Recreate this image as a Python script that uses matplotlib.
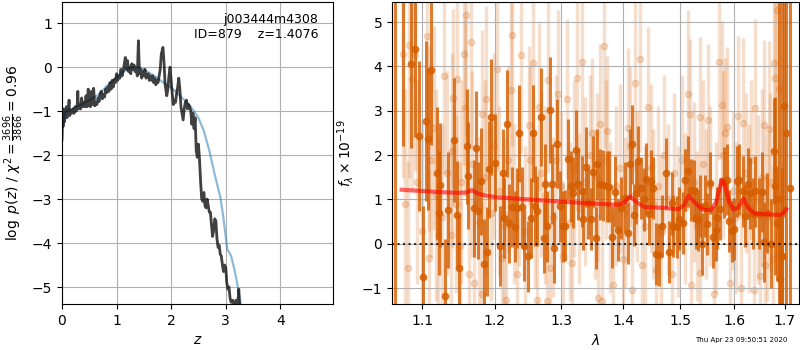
import matplotlib
matplotlib.use('Agg')
import matplotlib.pyplot as plt
from matplotlib.ticker import NullLocator

# left panel: log p(z) (black) and prior-ish smooth curve (blue)
z_pz = [0.00, 0.01, 0.02, 0.03, 0.04, 0.06, 0.08, 0.09, 0.11, 0.13,
        0.14, 0.16, 0.18, 0.20, 0.22, 0.24, 0.26, 0.28, 0.29, 0.30,
        0.32, 0.34, 0.36, 0.38, 0.40, 0.42, 0.44, 0.46, 0.48, 0.50,
        0.52, 0.54, 0.56, 0.58, 0.60, 0.62, 0.64, 0.66, 0.68, 0.70,
        0.72, 0.74, 0.76, 0.78, 0.80, 0.82, 0.84, 0.86, 0.88, 0.90,
        0.92, 0.94, 0.96, 0.98, 1.00, 1.02, 1.04, 1.06, 1.08, 1.10,
        1.12, 1.14, 1.16, 1.18, 1.20, 1.22, 1.24, 1.26, 1.28, 1.30,
        1.32, 1.34, 1.36, 1.38, 1.40, 1.42, 1.44, 1.46, 1.48, 1.50,
        1.52, 1.54, 1.56, 1.58, 1.60, 1.62, 1.64, 1.66, 1.68, 1.70,
        1.72, 1.74, 1.76, 1.78, 1.80, 1.82, 1.85, 1.87, 1.89, 1.92,
        1.94, 1.96, 1.98, 2.00, 2.02, 2.04, 2.06, 2.08, 2.10, 2.12,
        2.14, 2.16, 2.18, 2.20, 2.22, 2.24, 2.26, 2.28, 2.30, 2.32,
        2.34, 2.36, 2.38, 2.40, 2.42, 2.44, 2.46, 2.48, 2.50, 2.52,
        2.54, 2.56, 2.58, 2.60, 2.62, 2.64, 2.66, 2.68, 2.70, 2.72,
        2.74, 2.76, 2.78, 2.80, 2.82, 2.84, 2.86, 2.88, 2.90, 2.92,
        2.94, 2.96, 2.98, 3.00, 3.02, 3.04, 3.06, 3.08, 3.10, 3.13,
        3.16, 3.19, 3.22, 3.24, 3.26]
logp = [-1.65, -1.2, -1.35, -0.95, -1.25, -1.1, -0.9, -1.15, -1.05, -0.75,
        -1.1, -1.0, -1.05, -0.95, -1.05, -0.9, -1.0, -0.85, -0.55, -0.95,
        -0.85, -0.95, -0.7, -0.9, -0.8, -0.9, -0.65, -0.9, -0.5, -0.85,
        -0.9, -0.55, -0.85, -0.48, -0.88, -0.8, -0.85, -0.7, -0.78, -0.6,
        -0.55, -0.72, -0.62, -0.68, -0.5, -0.58, -0.45, -0.55, -0.35, -0.5,
        -0.3, -0.45, -0.28, -0.35, -0.15, -0.3, -0.2, -0.25, -0.05, -0.2,
        -0.1, 0.05, 0.22, -0.05, 0.15, -0.1, 0.0, -0.15, 0.08, -0.05,
        0.05, -0.1, -0.05, -0.2, 0.6, -0.15, -0.05, -0.25, -0.1, -0.2,
        -0.05, -0.25, -0.2, -0.15, -0.3, -0.2, -0.3, -0.2, -0.35, -0.25,
        -0.4, -0.3, -0.35, -0.2, -0.05, 0.3, 0.45, 0.1, -0.4, -0.65,
        -0.5, -0.2, 0.0, -0.3, -0.6, -0.85, -0.75, -0.8, -0.6, -0.45,
        -0.25, -0.5, -0.9, -1.05, -1.2, -0.95, -0.8, -0.75, -0.95, -0.85,
        -0.9, -1.0, -1.3, -1.05, -1.4, -1.15, -1.9, -2.05, -1.75, -2.1,
        -2.6, -3.0, -3.05, -2.85, -3.15, -3.2, -3.0, -3.15, -3.3, -3.3,
        -3.6, -3.85, -3.7, -3.45, -3.5, -3.9, -4.1, -4.05, -4.25, -4.3,
        -4.5, -4.65, -4.5, -4.55, -4.9, -5.05, -5.0, -5.25, -5.35, -5.3,
        -5.45, -5.3, -5.4, -5.05, -5.6]

z_prior = [0.0, 0.05, 0.1, 0.2, 0.3, 0.4, 0.5, 0.6, 0.7, 0.8, 0.9, 1.0,
           1.1, 1.2, 1.3, 1.4, 1.5, 1.6, 1.7, 1.8, 1.9, 2.0, 2.1, 2.2,
           2.3, 2.4, 2.5, 2.6, 2.7, 2.8, 2.9, 2.95, 3.0, 3.03, 3.07, 3.1,
           3.15, 3.2, 3.25, 3.3]
logp_prior = [-1.4, -1.05, -0.98, -0.95, -0.88, -0.82, -0.75, -0.68, -0.6,
              -0.45, -0.35, -0.22, -0.12, -0.05, 0.0, 0.0, -0.05, -0.13,
              -0.2, -0.3, -0.38, -0.47, -0.57, -0.7, -0.82, -0.97, -1.15,
              -1.45, -1.9, -2.45, -2.95, -3.35, -3.85, -4.15, -4.22, -4.3,
              -4.55, -4.85, -5.2, -5.55]

# right panel: spectrum, strong points
lam_dark = [1.064, 1.075, 1.085, 1.090, 1.096, 1.101, 1.105, 1.108, 1.112, 1.119,
            1.122, 1.124, 1.131, 1.135, 1.143, 1.147, 1.150, 1.161, 1.162, 1.170,
            1.174, 1.176, 1.181, 1.184, 1.189, 1.192, 1.195, 1.201, 1.207, 1.212,
            1.214, 1.218, 1.221, 1.225, 1.230, 1.232, 1.235, 1.240, 1.243, 1.249,
            1.253, 1.256, 1.259, 1.263, 1.268, 1.273, 1.275, 1.278, 1.282, 1.285,
            1.289, 1.293, 1.298, 1.303, 1.305, 1.311, 1.315, 1.319, 1.323, 1.327,
            1.332, 1.335, 1.339, 1.343, 1.347, 1.350, 1.355, 1.357, 1.362, 1.366,
            1.373, 1.377, 1.382, 1.386, 1.392, 1.397, 1.403, 1.408, 1.412, 1.415,
            1.419, 1.422, 1.426, 1.431, 1.435, 1.440, 1.445, 1.448, 1.452, 1.457,
            1.461, 1.467, 1.474, 1.480, 1.484, 1.487, 1.493, 1.498, 1.504, 1.508,
            1.514, 1.519, 1.524, 1.528, 1.532, 1.535, 1.539, 1.544, 1.548, 1.555,
            1.560, 1.565, 1.567, 1.573, 1.580, 1.586, 1.591, 1.595, 1.600, 1.606,
            1.610, 1.617, 1.621, 1.626, 1.630, 1.637, 1.641, 1.648, 1.655, 1.658,
            1.665, 1.673, 1.678, 1.681, 1.685, 1.688, 1.690, 1.694, 1.695, 1.699,
            1.703, 1.711]
flux_dark = [6.0, 6.0, 4.05, 4.40, 2.43, -0.74, 2.77, 2.37, 3.92, 1.59,
             0.70, 1.32, -1.18, 0.76, 2.34, 0.66, -0.55, 2.20, 1.54, 0.80,
             2.15, 0.75, 1.41, -0.45, -0.18, 1.68, 2.86, 1.83, -0.05, 1.59,
             0.59, 2.71, 0.46, 0.83, 0.38, 0.81, 2.49, 0.83, -0.04, -0.28,
             0.59, 2.49, 0.85, 0.74, 2.86, 0.14, 1.34, 0.40, 3.02, 1.34,
             -0.09, 2.26, 0.85, 0.40, 0.41, 1.92, 1.30, 1.15, 2.11, 1.34,
             1.19, 0.56, 1.74, 0.92, 0.56, 1.62, 0.14, 1.79, 1.34, 1.32,
             1.30, 1.29, 0.16, 1.17, 0.32, 0.81, 1.04, 0.25, 1.80, 2.24,
             0.66, 1.15, 1.86, 1.25, 1.00, 1.47, 0.68, 1.41, 1.26, -0.23,
             -0.25, 0.40, 1.59, -0.18, 0.91, 0.40, 0.38, 0.57, 0.46, 1.43,
             1.64, 1.21, 1.19, 0.59, 0.53, 0.85, 0.0, 0.85, 0.45, 1.38,
             0.16, 0.32, 0.59, 0.79, 1.39, 1.45, 0.51, 0.29, 0.34, 1.41,
             1.45, 1.19, 0.62, 1.35, 1.14, 0.68, 1.19, 0.68, 1.17, 0.04,
             0.70, 0.0, 2.09, 1.3, 0.46, 1.0, -0.80, -0.28, -0.28, 3.11,
             2.5, 1.26]
err_dark = [9.0, 3.8, 1.9, 2.0, 1.7, 1.6, 1.8, 1.6, 1.7, 1.5,
            1.4, 1.4, 1.3, 1.3, 1.4, 1.2, 1.2, 1.3, 1.2, 1.1,
            1.3, 1.1, 1.2, 1.0, 1.0, 1.1, 1.3, 1.1, 0.9, 1.0,
            0.9, 1.2, 0.9, 0.9, 0.8, 0.9, 1.1, 0.9, 0.8, 0.8,
            0.9, 1.1, 0.9, 0.8, 1.1, 0.8, 0.9, 0.8, 1.2, 0.9,
            0.8, 1.0, 0.8, 0.8, 0.8, 0.9, 0.8, 0.8, 0.9, 0.8,
            0.8, 0.7, 0.9, 0.8, 0.7, 0.8, 0.7, 0.8, 0.8, 0.8,
            0.8, 0.8, 0.7, 0.8, 0.7, 0.7, 0.8, 0.7, 0.8, 0.9,
            0.7, 0.7, 0.8, 0.7, 0.7, 0.8, 0.7, 0.7, 0.7, 0.7,
            0.7, 0.7, 0.8, 0.7, 0.7, 0.7, 0.7, 0.7, 0.7, 0.7,
            0.8, 0.7, 0.7, 0.7, 0.7, 0.7, 0.7, 0.7, 0.7, 0.7,
            0.7, 0.7, 0.7, 0.7, 0.8, 0.8, 0.7, 0.7, 0.7, 0.8,
            0.8, 0.8, 0.7, 0.8, 0.8, 0.8, 0.8, 0.8, 0.9, 0.9,
            0.9, 1.0, 1.2, 2.0, 1.3, 6.0, 1.5, 8.0, 2.0, 2.5,
            8.0, 8.0]

# right panel: weak points (drawn faint)
lam_light = [1.075, 1.083, 1.087, 1.091, 1.106, 1.109, 1.115, 1.129, 1.142, 1.147,
             1.156, 1.158, 1.160, 1.166, 1.182, 1.188, 1.203, 1.223, 1.225, 1.239,
             1.250, 1.256, 1.265, 1.280, 1.295, 1.309, 1.324, 1.332, 1.349, 1.361,
             1.368, 1.373, 1.408, 1.420, 1.428, 1.443, 1.514, 1.517, 1.535, 1.550,
             1.572, 1.576, 1.582, 1.586, 1.608, 1.618, 1.641, 1.658, 1.668, 1.678,
             1.681, 1.685, 1.688,
             1.081, 1.109, 1.121, 1.138, 1.151, 1.164, 1.171, 1.182, 1.210, 1.217,
             1.233, 1.263, 1.278, 1.283, 1.303, 1.317, 1.359, 1.365, 1.383, 1.400,
             1.415, 1.432, 1.456, 1.484, 1.520, 1.536, 1.561, 1.592, 1.613, 1.638,
             1.651, 1.661, 1.676,
             1.078, 1.093, 1.099, 1.112, 1.118, 1.126, 1.133, 1.140, 1.145, 1.153,
             1.168, 1.177, 1.186, 1.194, 1.199, 1.206, 1.213, 1.219, 1.228, 1.236,
             1.245, 1.252, 1.260, 1.269, 1.275, 1.287, 1.292, 1.300, 1.313, 1.320,
             1.328, 1.337, 1.345, 1.353, 1.357, 1.371, 1.378, 1.388, 1.395, 1.404,
             1.411, 1.424, 1.437, 1.447, 1.451, 1.460, 1.466, 1.471, 1.478, 1.489,
             1.495, 1.502, 1.509, 1.525, 1.531, 1.541, 1.546, 1.555, 1.566, 1.579,
             1.597, 1.603, 1.622, 1.628, 1.633, 1.646, 1.654, 1.664, 1.671]
flux_light = [4.29, 4.48, 3.72, 4.25, 4.68, 2.39, 2.62, 3.78, 3.29, 3.72,
              4.27, 3.07, 5.15, 4.55, 2.92, 3.26, 3.95, 3.47, 4.70, 4.25,
              2.67, 4.07, 3.09, 3.69, 3.37, 3.26, 3.74, 4.10, 2.49, 2.71,
              4.47, 2.54, 2.62, 3.63, 4.16, 3.09, 3.37, 2.92, 2.86, 2.80,
              4.10, 3.12, 2.50, 2.63, 2.88, 2.73, 3.07, 2.69, 2.58, 4.08,
              3.74, 5.27, 3.48,
              -0.54, -0.32, 0.21, 0.21, -0.05, -0.69, -0.88, -1.14, -0.32, -1.26,
              -0.69, -1.26, -1.29, -0.54, -0.28, -0.43, -1.22, -1.29, -0.92, -0.35,
              -1.03, -0.47, -0.58, -0.69, -0.92, -0.65, -1.14, -0.88, -0.99, -1.03,
              -0.73, -0.47, -0.35,
              0.9, 1.4, 0.3, 1.9, 1.1, 0.6, 1.6, 2.1, 0.9, 1.4,
              1.8, 0.5, 1.5, 0.7, 2.2, 1.2, 0.4, 1.9, 0.9, 1.5,
              0.3, 1.9, 0.8, 1.6, 1.1, 0.6, 1.9, 1.3, 0.5, 1.7,
              0.8, 1.4, 2.0, 0.9, 1.5, 1.9, 0.6, 1.3, 1.7, 0.7,
              2.2, 1.3, 0.4, 1.7, 0.9, 1.3, 0.3, 2.0, 1.0, 1.6,
              0.5, 1.9, 0.8, 1.4, 0.4, 1.8, 0.9, 1.3, 0.6, 2.0,
              1.2, 0.6, 1.6, 0.8, 1.9, 1.0, 1.5, 0.6, 1.4]
err_light = [2.8, 3.0, 2.5, 2.6, 2.4, 2.1, 2.3, 2.2, 2.0, 2.4,
             2.5, 2.0, 2.7, 2.4, 1.9, 2.1, 2.3, 2.0, 2.5, 2.2,
             1.8, 2.3, 1.9, 2.1, 1.9, 1.8, 2.0, 2.2, 1.7, 1.8,
             2.3, 1.7, 1.8, 2.0, 2.1, 1.8, 1.9, 1.7, 1.8, 1.7,
             2.2, 1.9, 1.7, 1.8, 1.8, 1.9, 2.0, 1.9, 2.0, 2.8,
             3.0, 4.0, 3.5,
             2.4, 2.0, 2.2, 2.1, 1.9, 2.0, 1.9, 2.1, 1.8, 2.0,
             1.9, 2.0, 1.8, 1.9, 1.7, 1.8, 1.9, 1.8, 1.7, 1.8,
             1.9, 1.7, 1.8, 1.7, 1.8, 1.7, 1.9, 1.8, 1.9, 2.0,
             1.9, 2.0, 2.1,
             2.6, 2.3, 2.5, 2.2, 2.4, 2.1, 2.3, 2.2, 2.0, 2.3,
             2.1, 1.9, 2.2, 2.0, 2.1, 1.9, 2.0, 2.1, 1.8, 2.0,
             1.9, 2.1, 1.8, 1.9, 2.0, 1.8, 1.9, 1.7, 1.8, 2.0,
             1.7, 1.9, 1.8, 1.7, 1.9, 1.8, 1.7, 1.8, 1.9, 1.7,
             1.8, 1.7, 1.8, 1.9, 1.7, 1.8, 1.7, 1.8, 1.7, 1.8,
             1.7, 1.9, 1.7, 1.8, 1.7, 1.9, 1.7, 1.8, 1.7, 1.9,
             1.8, 1.7, 1.8, 1.9, 1.8, 1.9, 2.0, 1.9, 2.0]

# best-fit model
lam_model = [1.073, 1.100, 1.130, 1.149, 1.160, 1.168, 1.176, 1.190, 1.203, 1.250,
             1.300, 1.362, 1.392, 1.402, 1.412, 1.424, 1.437, 1.470, 1.496, 1.507,
             1.515, 1.526, 1.541, 1.556, 1.566, 1.572, 1.577, 1.583, 1.590, 1.599,
             1.608, 1.618, 1.628, 1.640, 1.660, 1.690, 1.698, 1.703]
flux_model = [1.22, 1.19, 1.16, 1.15, 1.16, 1.21, 1.13, 1.08, 1.05, 1.00,
              0.95, 0.90, 0.88, 0.93, 1.07, 0.93, 0.83, 0.81, 0.78, 0.88,
              1.09, 0.93, 0.77, 0.76, 0.95, 1.25, 1.45, 1.30, 0.95, 0.77,
              0.82, 1.02, 0.80, 0.68, 0.67, 0.65, 0.70, 0.78]

xticks = [1.1, 1.2, 1.3, 1.4, 1.5, 1.6, 1.7]
g141 = (0.835, 0.369, 0.0)

fig = plt.figure(figsize=(8, 3.5), dpi=100)
ax = fig.add_axes([0.0775, 0.131, 0.339, 0.863])
ax.plot(z_prior, logp_prior, color='tab:blue', alpha=0.5, lw=1.6)
ax.plot(z_pz, logp, color='k', alpha=0.75, lw=2)
ax.set_xlim(0, 4.97)
ax.set_ylim(-5.39, 1.48)
ax.grid()
ax.set_xlabel('$z$')
ax.set_ylabel(r'$\log\ p(z)$ / $\chi^2=\frac{3696}{3866}=0.96$')
ax.text(0.945, 0.965, 'j003444m4308\nID=879    z=1.4076', ha='right', va='top',
        transform=ax.transAxes, fontsize=9)

ax2 = fig.add_axes([0.49, 0.131, 0.509, 0.863])
ax2.errorbar(lam_light, flux_light, yerr=err_light, color=g141, alpha=0.2,
             marker='o', ms=4.5, linestyle='None', elinewidth=2.5, zorder=1)
ax2.errorbar(lam_dark, flux_dark, yerr=err_dark, color=g141, alpha=0.8,
             marker='o', ms=4.5, linestyle='None', elinewidth=2.2, zorder=2)
ax2.plot(lam_model, flux_model, color='r', alpha=0.6, lw=3, zorder=3)
ax2.axhline(0, color='k', linestyle=':', lw=1.5, alpha=0.8, zorder=4)
ax2.set_xscale('log')
ax2.set_xticks(xticks)
ax2.set_xticklabels([str(x) for x in xticks])
ax2.xaxis.set_minor_locator(NullLocator())
ax2.set_xlim(1.0607, 1.730)
ax2.set_ylim(-1.36, 5.45)
ax2.grid()
ax2.set_xlabel(r'$\lambda$')
ax2.set_ylabel(r'$f_\lambda \times 10^{-19}$')

fig.text(0.984, 0.02, 'Thu Apr 23 09:50:51 2020', ha='right', va='bottom', fontsize=5)

fig.savefig('out.png', dpi=100)
